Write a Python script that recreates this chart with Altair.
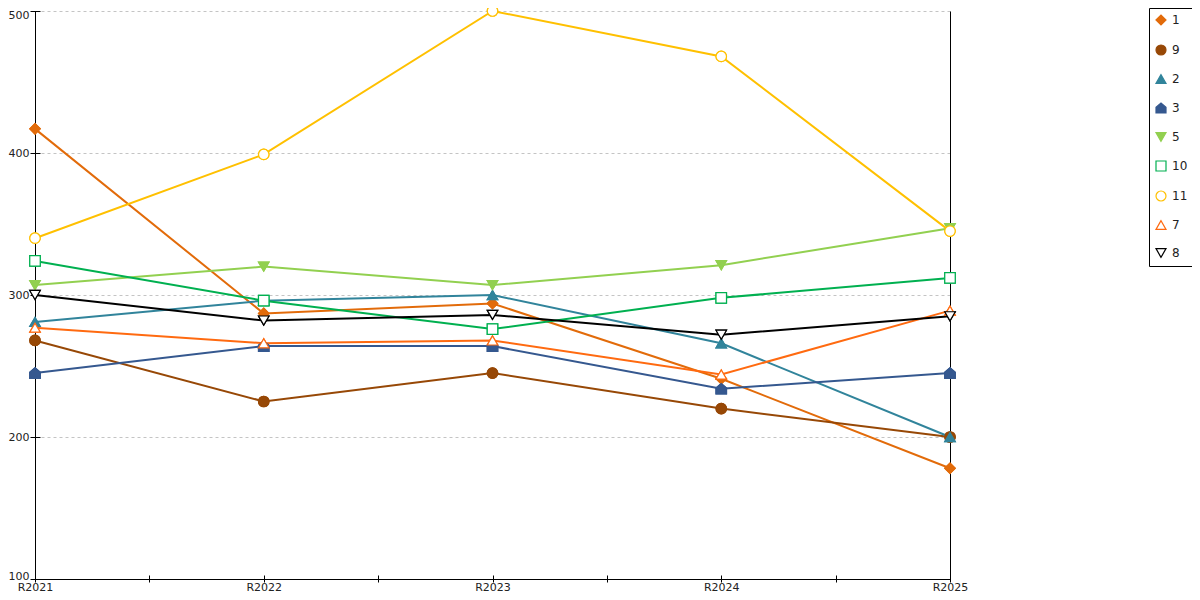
import altair as alt
import pandas as pd

years = ["R2021", "R2022", "R2023", "R2024", "R2025"]
series_names = ["1", "9", "2", "3", "5", "10", "11", "7", "8"]
s1 = [417, 287, 294, 241, 178]
s9 = [268, 225, 245, 220, 200]
s2 = [281, 296, 300, 266, 200]
s3 = [245, 264, 264, 234, 245]
s5 = [307, 320, 307, 321, 347]
s10 = [324, 296, 276, 298, 312]
s11 = [340, 399, 500, 468, 345]
s7 = [277, 266, 268, 244, 289]
s8 = [300, 282, 286, 272, 285]

values = [s1, s9, s2, s3, s5, s10, s11, s7, s8]
colors = ["#E26B0A", "#974806", "#31849B", "#35588F", "#92D050",
          "#00B050", "#FFC000", "#FF6A10", "#000000"]
fills = ["#E26B0A", "#974806", "#31849B", "#35588F", "#92D050",
         "white", "white", "white", "white"]
house = "M-1,1L1,1L1,-0.15L0,-1L-1,-0.15Z"
shapes = ["diamond", "circle", "triangle-up", house, "triangle-down",
          "square", "circle", "triangle-up", "triangle-down"]

rows = []
for name, vals in zip(series_names, values):
    for i, (yr, v) in enumerate(zip(years, vals)):
        rows.append({"series": name, "idx": i, "year": yr, "value": v})
df = pd.DataFrame(rows)

label_arr = "[" + ",".join("'" + y + "'" for y in years) + "]"
label_expr = "datum.value % 1 === 0 ? " + label_arr + "[datum.value] : ''"
tick_vals = [i / 2 for i in range(2 * (len(years) - 1) + 1)]
y_ticks = [100, 200, 300, 400, 500]

xs = alt.Scale(domain=[0, len(years) - 1], nice=False, zero=False)
ys = alt.Scale(domain=[100, 500], nice=False, zero=False)

base = alt.Chart(df)

lines = base.mark_line(strokeWidth=2).encode(
    x=alt.X("idx:Q", scale=xs, axis=alt.Axis(
        title=None, values=tick_vals, ticks=False, labelPadding=2,
        labelFlush=False, domainColor="black", grid=False,
        labelExpr=label_expr, labelFontSize=11, labelColor="#222")),
    y=alt.Y("value:Q", scale=ys, axis=alt.Axis(
        title=None, values=y_ticks, ticks=False, labelPadding=6,
        labelFlush=True, labelFlushOffset=2,
        domainColor="black", grid=True, gridColor="#c4c4c4",
        gridDash=[3, 3], labelFontSize=11, labelColor="#222")),
    detail="series:N",
    stroke=alt.Stroke("series:N", scale=alt.Scale(domain=series_names, range=colors)),
)


def point_layer():
    return base.mark_point(filled=False, strokeWidth=1.2, size=110, opacity=1).encode(
        x=alt.X("idx:Q", scale=xs, axis=None),
        y=alt.Y("value:Q", scale=ys, axis=None),
        stroke=alt.Stroke("series:N", scale=alt.Scale(domain=series_names, range=colors)),
        fill=alt.Fill("series:N", scale=alt.Scale(domain=series_names, range=fills)),
        shape=alt.Shape("series:N", scale=alt.Scale(domain=series_names, range=shapes)),
    )


ticks_layer = base.mark_point(opacity=0).encode(
    x=alt.X("idx:Q", scale=xs, axis=alt.Axis(
        orient="bottom", offset=-4, tickSize=7, values=tick_vals, domain=False,
        labels=False, grid=False, title=None, tickColor="black")),
    y=alt.Y("value:Q", scale=ys, axis=alt.Axis(
        orient="right", domain=True, domainColor="black", ticks=False,
        labels=False, grid=False, title=None)),
)

yticks_layer = base.mark_point(opacity=0).encode(
    x=alt.X("idx:Q", scale=xs, axis=None),
    y=alt.Y("value:Q", scale=ys, axis=alt.Axis(
        orient="left", offset=-5, tickSize=10, values=y_ticks,
        domain=False, labels=False, grid=False, title=None, tickColor="black")),
)

chart = alt.layer(point_layer(), lines, point_layer(), ticks_layer, yticks_layer).resolve_axis(
    x="independent", y="independent"
).properties(
    width=915, height=568,
    autosize=alt.AutoSizeParams(type="none"),
    padding={"left": 27, "top": 3, "right": 242, "bottom": 13},
).configure(
    font="DejaVu Sans",
).configure_view(
    stroke=None,
).configure_legend(
    title=None, orient="none", legendX=1114, legendY=-3,
    strokeColor="black", fillColor="white", padding=6,
    rowPadding=14, symbolSize=100, labelFontSize=12, labelOffset=5,
    symbolStrokeWidth=1.2, labelColor="#222", cornerRadius=0,
)

chart.save("out.html", embed_options={"renderer": "svg", "actions": False})
